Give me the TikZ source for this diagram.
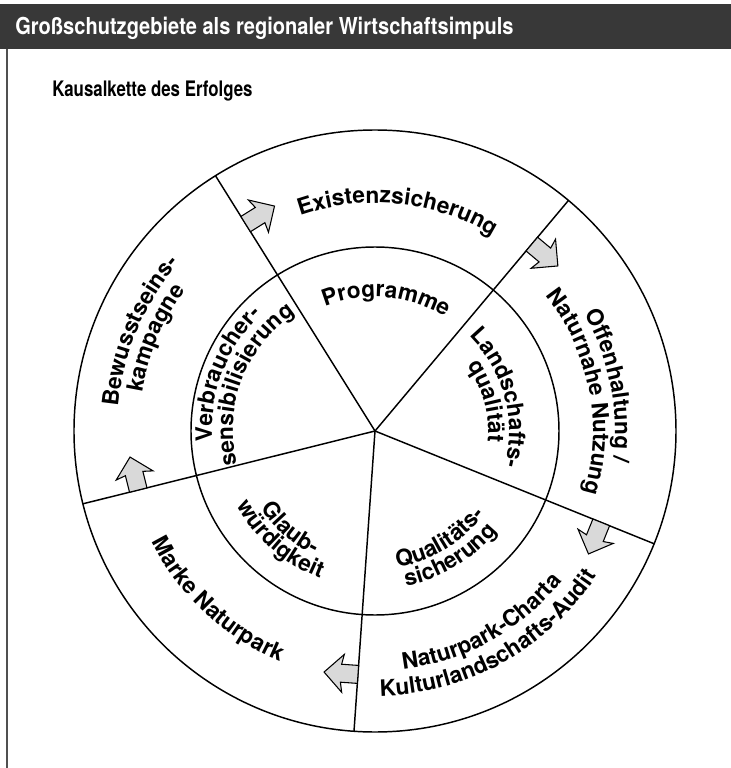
\documentclass[tikz,border=0pt]{standalone}
\usepackage{fontspec}
\setmainfont{TeX Gyre Heros}
\usepackage{graphicx}
\usetikzlibrary{decorations.text}

\definecolor{headgray}{RGB}{56,56,56}
\definecolor{framegray}{RGB}{80,80,80}
\definecolor{arrowgray}{RGB}{217,217,217}

\newcommand{\ringfont}{\fontsize{17}{20}\selectfont\bfseries}
% text on an arc: centre angle, baseline radius, text
\newcommand{\cwlabel}[3]{\path[arclabel={#3}] (#1+80:#2) arc[start angle=#1+80, end angle=#1-80, radius=#2];}
\newcommand{\ccwlabel}[3]{\path[arclabel={#3}] (#1-80:#2) arc[start angle=#1-80, end angle=#1+80, radius=#2];}

\begin{document}
\begin{tikzpicture}[
  x=0.75pt, y=0.75pt,
  ring/.style={line width=1.1pt},
  flowarrow/.style={draw, fill=arrowgray, line width=0.8pt, line join=miter},
  arclabel/.style={decorate, decoration={text along path, text align=center, text={|\ringfont|#1}}}
]
\useasboundingbox (-375,-337) rectangle (356,431);

% header and frame
\fill[headgray] (-375,427) rectangle (356,382);
\draw[framegray, line width=1.5pt] (-368,382) -- (-368,-337);
\node[anchor=base west, inner sep=0, text=white, font=\fontsize{17.5}{20}\selectfont\bfseries] (title) at (-360,396)
  {\scalebox{0.86}[1]{Großschutzgebiete als regionaler Wirtschaftsimpuls}};
\node[anchor=base west, inner sep=0, font=\fontsize{16}{18}\selectfont\bfseries] (subtitle) at (-323,334)
  {\scalebox{0.79}[1]{Kausalkette des Erfolges}};

% rings and sectors
\coordinate (c) at (0,0);
\draw[ring] (c) circle[radius=301];
\draw[ring] (c) circle[radius=184];
\foreach \a in {50,122,194,266,338}
  \draw[ring] (c) -- (\a:301);

% arrows on the sector borders
\foreach \a in {50,122,194,266,338}
  \draw[flowarrow, shift={(\a:244)}, rotate=\a-90]
    (0,-9) -- (17,-9) -- (15,-19) -- (34,0) -- (15,19) -- (17,9) -- (0,9) -- cycle;

% outer ring
\cwlabel{84}{228}{Existenzsicherung}
\cwlabel{11}{240}{Offenhaltung /}
\cwlabel{11}{218}{Naturnahe Nutzung}
\ccwlabel{299}{240}{Naturpark-Charta}
\ccwlabel{299}{265}{Kulturlandschafts-Audit}
\ccwlabel{227}{249}{Marke Naturpark}
\cwlabel{157}{258}{Bewusstseins-}
\cwlabel{157}{236}{kampagne}

% inner ring
\cwlabel{85}{134}{Programme}
\cwlabel{15}{134}{Landschafts-}
\cwlabel{15}{113}{qualität}
\ccwlabel{301}{138}{Qualitäts-}
\ccwlabel{301}{158}{sicherung}
\ccwlabel{229}{138}{Glaub-}
\ccwlabel{229}{157}{würdigkeit}
\cwlabel{159}{163}{Verbraucher-}
\cwlabel{159}{142}{sensibilisierung}
\end{tikzpicture}
\end{document}
